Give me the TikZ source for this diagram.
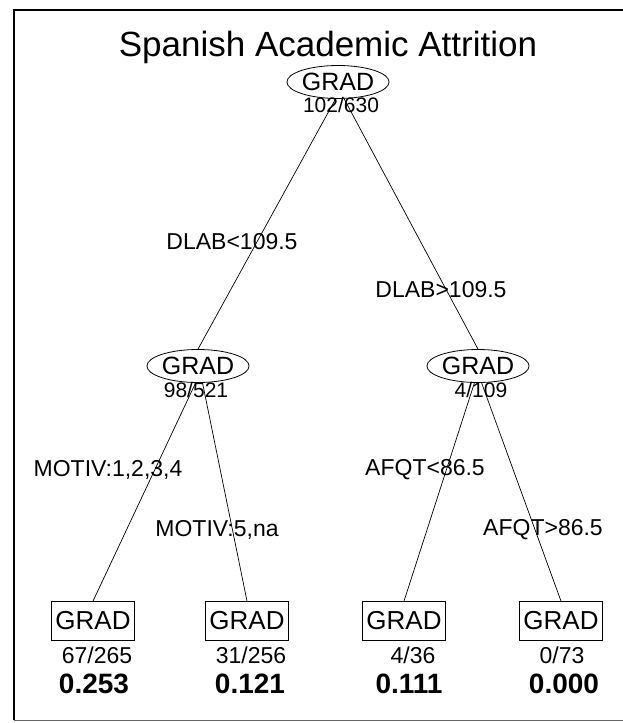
\documentclass[tikz,border=0pt]{standalone}
\usepackage{fontspec}
\setmainfont{Liberation Sans}
\usetikzlibrary{shapes.geometric}
\begin{document}
\begin{tikzpicture}[x=1pt,y=-1pt,
  txt/.style={inner sep=0pt, font=\fontsize{23}{25}\selectfont},
  cnt/.style={inner sep=0pt, font=\fontsize{21}{23}\selectfont},
  split/.style={ellipse, draw, line width=0.8pt, inner sep=0pt, minimum width=78pt, minimum height=33pt, font=\fontsize{25}{27}\selectfont},
  leaf/.style={rectangle, draw, line width=0.8pt, inner sep=0pt, minimum width=83pt, minimum height=39pt, font=\fontsize{26}{28}\selectfont},
  val/.style={inner sep=0pt, font=\fontsize{28}{30}\selectfont\bfseries},
  edge/.style={line width=0.7pt}]
\useasboundingbox (0,0) rectangle (623,723);
% frame
\draw[line width=2.5pt] (14,720) -- (14,10) -- (623,10);
\draw[line width=0.8pt, black!60] (14,720) -- (623,720);
% title
\node[inner sep=0pt, font=\fontsize{35}{39}\selectfont] (title) at (328,47) {Spanish Academic Attrition};
% split nodes
\node[split] (r) at (338,82) {GRAD};
\node[cnt] (rc) at (341,105) {102/630};
\node[split] (l) at (198,366) {GRAD};
\node[cnt] (lc) at (196,390) {98/521};
\node[split] (rr) at (478,366) {GRAD};
\node[cnt] (rrc) at (481,390) {4/109};
% leaves
\node[leaf] (a) at (93,621) {GRAD};
\node[leaf] (b) at (247,621) {GRAD};
\node[leaf] (c) at (404,621) {GRAD};
\node[leaf] (d) at (561,621) {GRAD};
\node[txt] (ac) at (97,655) {67/265};
\node[txt] (bc) at (251,655) {31/256};
\node[txt] (cc) at (413,655) {4/36};
\node[txt] (dc) at (562,655) {0/73};
\node[val] (av) at (94,684) {0.253};
\node[val] (bv) at (250,684) {0.121};
\node[val] (cv) at (409,684) {0.111};
\node[val] (dv) at (564,684) {0.000};
% connectors
\draw[edge] (r.262) -- (l.north);
\draw[edge] (r.290) -- (rr.north);
\draw[edge] (l.262) -- (a.north);
\draw[edge] (l.285) -- (b.north);
\draw[edge] (rr.258) -- (c.north);
\draw[edge] (rr.282) -- (d.north);
% edge labels
\node[txt] (e1) at (232,242) {DLAB<109.5};
\node[txt] (e2) at (441,290) {DLAB>109.5};
\node[txt] (e3) at (108,470) {MOTIV:1,2,3,4};
\node[txt] (e4) at (217,530) {MOTIV:5,na};
\node[txt] (e5) at (425,470) {AFQT<86.5};
\node[txt] (e6) at (543,530) {AFQT>86.5};
\end{tikzpicture}
\end{document}
